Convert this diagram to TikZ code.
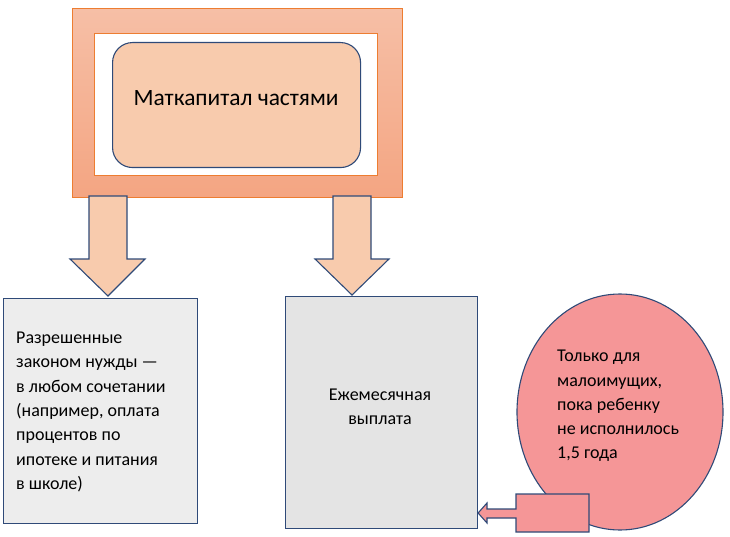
\documentclass[tikz,border=0pt]{standalone}
\usepackage{fontspec}
\setmainfont{Carlito}
\usetikzlibrary{shapes.geometric}
\definecolor{frameor}{HTML}{ED7D31}
\definecolor{frametop}{HTML}{F6BFA6}
\definecolor{framebot}{HTML}{F4A582}
\definecolor{peach}{HTML}{F8CBAD}
\definecolor{navy}{HTML}{2F4A78}
\definecolor{boxgrayA}{HTML}{EDEDED}
\definecolor{boxgrayB}{HTML}{E4E4E4}
\definecolor{pinkred}{HTML}{F59697}
\tikzset{
  navyline/.style={draw=navy, line width=1.1pt},
  blockarrow/.style={navyline, fill=peach, line join=miter},
  txt/.style={inner sep=0pt, text=black},
  bodyfont/.style={font=\fontsize{18}{24.3}\selectfont},
}
\begin{document}
\begin{tikzpicture}[x=1pt,y=-1pt]
\useasboundingbox (0,0) rectangle (730,537);
% top frame
\path[top color=frametop, bottom color=framebot, draw=frameor, line width=1pt] (72,9) rectangle (402,198);
\path[fill=white, draw=frameor, line width=0.8pt] (94,33) rectangle (377,175);
\node[navyline, fill=peach, rounded corners=20pt, minimum width=248pt, minimum height=125pt, anchor=north west] (main) at (112,42) {};
\node[txt, font=\fontsize{23.4}{28}\selectfont] (maintxt) at (236,98) {Маткапитал частями};
% block arrows
\draw[blockarrow] (89,196) -- (127,196) -- (127,259) -- (145,259) -- (108,296) -- (70,259) -- (89,259) -- cycle;
\draw[blockarrow] (333,196) -- (371,196) -- (371,259) -- (389,259) -- (352,295) -- (315,259) -- (333,259) -- cycle;
% left box
\node[navyline, fill=boxgrayA, minimum width=194pt, minimum height=225pt, anchor=north west] (left) at (3,298) {};
\node[txt, align=left, anchor=west, bodyfont] (lefttxt) at (16,412) {Разрешенные\\законом нужды —\\в любом сочетании\\(например, оплата\\процентов по\\ипотеке и питания\\в школе)};
% middle box
\node[navyline, fill=boxgrayB, minimum width=192pt, minimum height=232pt, anchor=north west] (mid) at (285,296) {};
\node[txt, align=center, bodyfont] (midtxt) at (380,407) {Ежемесячная\\выплата};
% ellipse
\node[navyline, fill=pinkred, ellipse, minimum width=206pt, minimum height=236pt, inner sep=0pt] (ell) at (620,412) {};
\node[txt, align=left, anchor=west, bodyfont] (elltxt) at (557,406) {Только для\\малоимущих,\\пока ребенку\\не исполнилось\\1,5 года};
% callout arrow
\coordinate (tip) at (mid.east |- 0,513);
\draw[navyline, fill=pinkred, line join=miter] (589,494) -- (516,494) -- (516,509) -- (487,509) -- (487,503) -- (tip) -- (487,523) -- (487,518) -- (516,518) -- (516,532) -- (589,532) -- cycle;
\end{tikzpicture}
\end{document}
